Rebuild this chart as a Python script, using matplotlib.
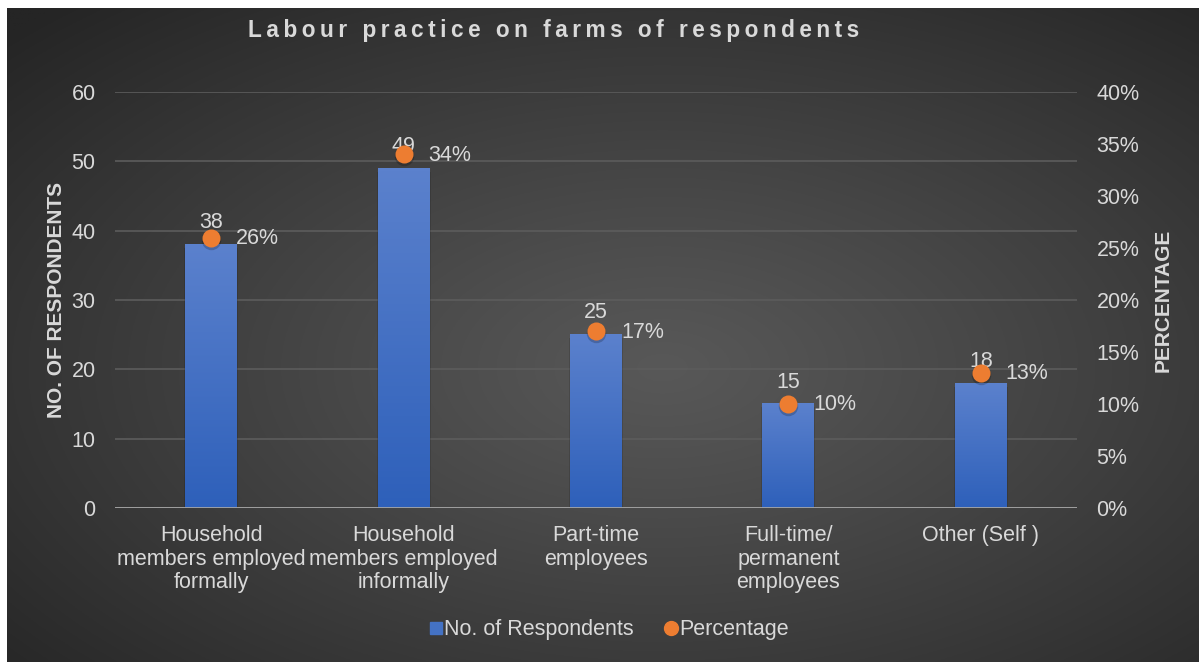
import numpy as np
import matplotlib
matplotlib.use("Agg")
import matplotlib.pyplot as plt
from matplotlib.lines import Line2D
from matplotlib.ticker import MultipleLocator, FuncFormatter

plt.rcParams["font.family"] = ["Liberation Sans", "DejaVu Sans"]

categories = [
    "Household\nmembers employed\nformally",
    "Household\nmembers employed\ninformally",
    "Part-time\nemployees",
    "Full-time/\npermanent\nemployees",
    "Other (Self )",
]
respondents = [38, 49, 25, 15, 18]
percentages = [26, 34, 17, 10, 13]

TXT = "#d9d9d9"
BAR_TOP = np.array([91, 129, 205]) / 255
BAR_BOT = np.array([46, 96, 186]) / 255
ORANGE = "#ED7D31"
FS = 15.5

fig = plt.figure(figsize=(11.99, 6.62), dpi=100)

# radial gradient panel behind the chart, leaving a thin white margin
bg = fig.add_axes([7 / 1199, 0, 1 - 7 / 1199, 1 - 8 / 662], zorder=-5)
yy, xx = np.mgrid[0:1:400j, 0:1:700j]
r = np.sqrt(((xx - 0.55) / 0.75) ** 2 + ((yy - 0.45) / 0.75) ** 2)
r = np.clip(r, 0, 1)
lo, hi = 0x25 / 255, 0x58 / 255
shade = hi - (hi - lo) * r ** 1.1
bg.imshow(np.dstack([shade] * 3), aspect="auto", extent=[0, 1, 0, 1], origin="lower")
bg.set_axis_off()

ax = fig.add_axes([115 / 1199, 1 - 508 / 662, (1077 - 115) / 1199, (508 - 92) / 662])
ax.set_facecolor("none")
ax2 = ax.twinx()
ax2.set_facecolor("none")

x = np.arange(len(categories))
width = 0.27

grad = np.linspace(0, 1, 100)[:, None, None]
grad_img = BAR_BOT + (BAR_TOP - BAR_BOT) * grad
for xi, v in zip(x, respondents):
    # soft drop shadow under each bar
    ax.bar(xi, v, width * 1.04, bottom=-0.5, color="black", alpha=0.12, zorder=1.5, lw=0)
    ax.imshow(grad_img, extent=[xi - width / 2, xi + width / 2, 0, v],
              origin="lower", aspect="auto", zorder=2)
    ax.annotate(str(v), (xi, v), xytext=(0, 22), textcoords="offset pixels",
                ha="center", va="center", color=TXT, fontsize=FS, zorder=3)
ax.set_xlim(-0.5, len(categories) - 0.5)
ax.set_ylim(0, 60)
ax2.set_ylim(0, 40)

# shadow + marker for the percentage series
ax2.plot(x, percentages, ls="none", marker="o", ms=14, color="black", alpha=0.2,
         markeredgewidth=0, zorder=4, transform=ax2.transData +
         matplotlib.transforms.ScaledTranslation(0, -2 / 100, fig.dpi_scale_trans))
ax2.plot(x, percentages, ls="none", marker="o", ms=13, color=ORANGE, zorder=5,
         markeredgewidth=0)
for xi, p in zip(x, percentages):
    ax2.annotate(f"{p}%", (xi, p), xytext=(25, -1), textcoords="offset pixels",
                 ha="left", va="center", color=TXT, fontsize=FS)

ax.yaxis.set_major_locator(MultipleLocator(10))
ax2.yaxis.set_major_locator(MultipleLocator(5))
ax2.yaxis.set_major_formatter(FuncFormatter(lambda v, _: f"{v:.0f}%"))
ax.grid(axis="y", color="#5c5c5c", lw=1.2)
ax.set_axisbelow(True)
ax.set_xticks(x)
ax.set_xticklabels(categories, color=TXT, fontsize=FS, linespacing=1.18)
ax.tick_params(axis="x", length=0, pad=12)
ax.tick_params(axis="y", length=0, pad=14, labelcolor=TXT, labelsize=FS)
ax2.tick_params(axis="y", length=0, pad=14, labelcolor=TXT, labelsize=FS)

for a in (ax, ax2):
    for s in a.spines.values():
        s.set_visible(False)
ax.axhline(0, color="#a6a6a6", lw=2, zorder=4)

ax.set_ylabel("NO. OF RESPONDENTS", color=TXT, fontsize=15, fontweight="bold", labelpad=4)
ax2.set_ylabel("PERCENTAGE", color=TXT, fontsize=15, fontweight="bold", labelpad=10)

# letter-spaced title
title = "Labour practice on farms of respondents"
fig.text(0.462, 1 - 30 / 662, "\u2009".join(title), ha="center", va="center",
         color=TXT, fontsize=16.3, fontweight="bold")

handles = [
    Line2D([], [], ls="none", marker="s", ms=9, color="#4472C4"),
    Line2D([], [], ls="none", marker="o", ms=10, color=ORANGE),
]
fig.legend(handles, ["No. of Respondents", "Percentage"], loc="center",
           bbox_to_anchor=(0.508, 1 - 630 / 662), ncol=2, frameon=False,
           labelcolor=TXT, fontsize=FS, handlelength=0.6, handletextpad=0.1,
           columnspacing=1.4)

fig.savefig("out.png", dpi=100)
